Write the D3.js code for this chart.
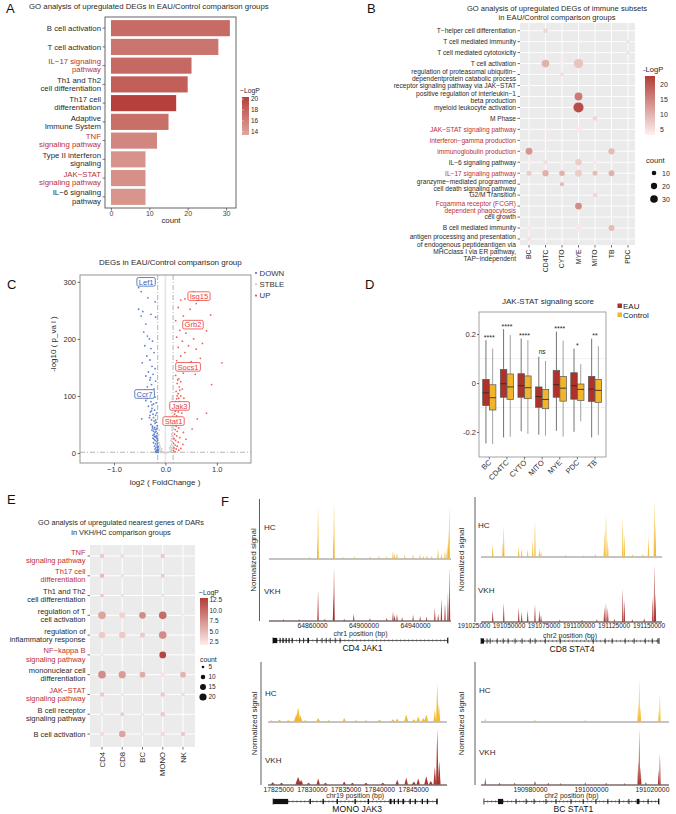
<!DOCTYPE html>
<meta charset="utf-8">
<script src="https://d3js.org/d3.v7.min.js"></script>
<style>
  body { margin: 0; background: #fff; }
  svg { display: block; }
</style>
<body>
<script>
// ---------------- data ----------------
// A: GO terms (EAU/Control DEGs)
var aTerms = ["B cell activation", "T cell activation", "IL\u221217 signaling\npathway", "Th1 and Th2\ncell differentiation",
  "Th17 cell\ndifferentiation", "Adaptive\nImmune System", "TNF\nsignaling pathway", "Type II interferon\nsignaling",
  "JAK\u2212STAT\nsignaling pathway", "IL\u22126 signaling\npathway"];
var aCount = [31, 28, 21, 20, 17, 15, 12, 9, 9, 9];
var aLogP = [17.4, 16.8, 17.6, 18.3, 20.4, 17.2, 15.6, 14.7, 14.9, 14.6];
var aHighlight = ["IL\u221217 signaling\npathway", "TNF\nsignaling pathway", "JAK\u2212STAT\nsignaling pathway"];

// B: GO terms per immune subset
var bCells = ["BC", "CD4TC", "CYTO", "MYE", "MITO", "TB", "PDC"];
var bTerms = ["T\u2212helper cell differentiation", "T cell mediated immunity", "T cell mediated cytotoxicity", "T cell activation",
  "regulation of proteasomal ubiquitin\u2212\ndependentprotein catabolic process", "receptor signaling pathway via JAK\u2212STAT",
  "positive regulation of interleukin\u22121\nbeta production", "myeloid leukocyte activation", "M Phase", "JAK\u2212STAT signaling pathway",
  "interferon\u2212gamma production", "immunoglobulin production", "IL\u22126 signaling pathway", "IL\u221217 signaling pathway",
  "granzyme\u2212mediated programmed\ncell death signaling pathway", "G2/M Transition", "Fcgamma receptor (FCGR)\ndependent phagocytosis",
  "cell growth", "B cell mediated immunity",
  "antigen processing and presentation\nof endogenous peptideantigen via\nMHCclass I via ER pathway,\nTAP\u2212independent"];
var bHighlight = [9, 10, 11, 13, 16];
// [term index, cell, count, -LogP]
var bDots = [
  [0, "CD4TC", 10, 6], [1, "MYE", 6, 2], [1, "PDC", 5, 5], [2, "PDC", 5, 5],
  [3, "CD4TC", 30, 10], [3, "CYTO", 8, 3], [3, "MYE", 46, 8], [4, "CYTO", 7, 5], [5, "BC", 4, 3],
  [6, "MYE", 32, 16], [7, "MYE", 55, 21], [8, "MITO", 10, 6],
  [9, "BC", 9, 3], [9, "CD4TC", 9, 3], [9, "MYE", 20, 4], [10, "CD4TC", 5, 2],
  [11, "BC", 24, 13], [11, "CD4TC", 10, 3], [11, "TB", 20, 9],
  [12, "BC", 8, 3], [12, "CD4TC", 10, 5], [12, "CYTO", 6, 3], [12, "MYE", 22, 7], [12, "MITO", 6, 4], [12, "TB", 9, 3],
  [13, "BC", 13, 7], [13, "CD4TC", 20, 10], [13, "CYTO", 15, 10], [13, "MYE", 24, 7], [13, "MITO", 12, 9], [13, "TB", 17, 10],
  [14, "CYTO", 8, 9], [15, "MITO", 9, 6], [16, "MYE", 24, 14], [17, "TB", 5, 2],
  [18, "BC", 11, 4], [18, "CD4TC", 9, 3], [18, "MYE", 28, 4], [18, "TB", 18, 9], [19, "BC", 7, 5]
];

// C: volcano points [log2FC, -log10 p]
var downPts = [[-0.52,290],[-0.49,297],[-0.47,283],[-0.34,272],[-0.2,265],[-0.52,252],[-0.44,248],[-0.47,240],[-0.28,243],[-0.19,238],
  [-0.38,226],[-0.42,212],[-0.35,205],[-0.31,200],[-0.25,196],[-0.4,188],[-0.28,183],[-0.22,176],[-0.36,170],[-0.3,163],
  [-0.45,158],[-0.26,152],[-0.2,148],[-0.33,142],[-0.38,135],[-0.24,138],[-0.3,128],[-0.19,126],[-0.27,120],[-0.35,116],
  [-0.22,112],[-0.31,106],[-0.25,101],[-0.2,98],[-0.38,92],[-0.28,90],[-0.23,86],[-0.33,82],[-0.26,78],[-0.21,75],
  [-0.29,72],[-0.24,68],[-0.19,66],[-0.46,60],[-0.31,62],[-0.27,58],[-0.22,56],[-0.18,54],[-0.28,50],[-0.25,47],
  [-0.21,45],[-0.17,43],[-0.26,40],[-0.23,38],[-0.2,36],[-0.16,34],[-0.24,31],[-0.21,29],[-0.18,27],[-0.22,24],
  [-0.2,22],[-0.17,20],[-0.23,18],[-0.19,16],[-0.16,14],[-0.21,12],[-0.18,10],[-0.15,9],[-0.2,7],[-0.17,5],
  [-0.15,4],[-0.19,3],[-0.16,2],[-0.14,1],[-0.18,1],[-0.22,33],[-0.19,41],[-0.2,52],[-0.23,62],[-0.17,30],
  [-0.15,17],[-0.14,11],[-0.16,25],[-0.24,26],[-0.25,44],[-0.3,66],[-0.26,84],[-0.35,96],[-0.4,110],[-0.29,132],
  [-0.18,88],[-0.17,70],[-0.16,48],[-0.15,22],[-0.14,6],[-0.2,29],[-0.22,42],[-0.19,58],[-0.27,74],[-0.18,38]];
var stblePts = [[-0.13,2],[-0.12,5],[-0.11,8],[-0.1,3],[-0.09,1],[-0.13,12],[-0.12,18],[-0.14,25],[-0.11,14],[-0.08,4],
  [-0.06,2],[-0.04,1],[-0.02,0.5],[0.02,0.6],[0.05,1],[0.07,2],[0.09,3],[0.1,6],[0.11,10],[0.12,15],
  [0.13,20],[0.12,25],[0.13,30],[0.14,35],[0.13,40],[0.12,45],[0.14,50],[0.13,55],[0.12,60],[0.14,65],
  [0.13,70],[0.12,75],[0.14,80],[0.13,85],[0.14,90],[0.13,95],[0.11,22],[0.12,33],[0.1,12],[0.13,8],
  [-0.13,32],[-0.12,40],[-0.1,10],[-0.14,6],[0.14,100],[0.12,5],[0.11,2],[-0.07,7],[0.08,9]];
var upPts = [[0.55,283],[0.38,270],[0.3,268],[0.6,262],[0.25,255],[0.48,252],[0.88,242],[0.35,240],[0.7,230],[0.2,232],
  [0.5,225],[0.62,222],[0.8,214],[0.28,215],[0.4,210],[0.22,203],[0.55,200],[0.33,196],[0.72,192],[0.45,188],
  [0.25,185],[0.6,182],[0.38,176],[0.3,170],[0.68,166],[1.1,158],[0.5,160],[0.22,162],[0.42,150],[0.28,145],
  [0.35,140],[0.58,138],[0.2,136],[0.26,130],[0.3,125],[0.23,122],[0.9,120],[0.27,116],[0.33,112],[0.21,108],
  [0.25,104],[0.3,100],[0.36,96],[0.22,95],[0.27,90],[0.45,88],[0.24,85],[0.19,82],[0.29,80],[0.21,76],
  [0.25,72],[0.32,70],[0.18,68],[0.22,65],[0.27,62],[0.2,58],[0.24,55],[0.3,52],[0.17,50],[0.21,47],
  [0.26,44],[0.19,41],[0.23,38],[0.35,36],[0.18,33],[0.22,30],[0.28,27],[0.17,25],[0.2,22],[0.25,19],
  [0.16,17],[0.19,14],[0.23,12],[0.17,9],[0.21,7],[0.26,5],[0.16,4],[0.19,2],[0.3,8],[0.34,15],
  [0.4,24],[0.52,42],[0.62,60],[0.8,70],[0.24,128],[0.28,110],[0.23,100],[0.26,96],[0.2,90],[0.31,86],[0.19,73]];
var volcGenes = ["Lef1", "Isg15", "Grb2", "Socs1", "Ccr7", "Jak3", "Stat1"];
var volcGeneDir = ["DOWN", "UP", "UP", "UP", "DOWN", "UP", "UP"];
var volcGeneX = [-0.375, 0.654, 0.537, 0.441, -0.404, 0.276, 0.159];
var volcGeneY = [300, 275, 225, 151, 103.5, 82.5, 56];

// D: JAK-STAT score boxplots [lower whisker, Q1, median, Q3, upper whisker]
var dCells = ["BC", "CD4TC", "CYTO", "MITO", "MYE", "PDC", "TB"];
var dEAU = [[-0.247,-0.092,-0.040,0.015,0.175], [-0.222,-0.058,-0.003,0.055,0.220], [-0.197,-0.058,-0.011,0.038,0.182],
  [-0.211,-0.099,-0.055,-0.016,0.107], [-0.195,-0.058,-0.007,0.051,0.210], [-0.199,-0.066,-0.011,0.042,0.141],
  [-0.222,-0.075,-0.025,0.027,0.181]];
var dCtrl = [[-0.249,-0.110,-0.060,-0.007,0.141], [-0.219,-0.067,-0.016,0.037,0.196], [-0.208,-0.064,-0.019,0.029,0.175],
  [-0.215,-0.105,-0.067,-0.026,0.090], [-0.219,-0.074,-0.021,0.027,0.173], [-0.156,-0.071,-0.026,-0.004,0.077],
  [-0.212,-0.079,-0.030,0.015,0.151]];
var dSig = ["****", "****", "****", "ns", "****", "*", "**"];

// E: GO terms of DAR nearest genes (VKH/HC)
var eCells = ["CD4", "CD8", "BC", "MONO", "NK"];
var eTerms = ["TNF\nsignaling pathway", "Th17 cell\ndifferentiation", "Th1 and Th2\ncell differentiation", "regulation of T\ncell activation",
  "regulation of\ninflammatory response", "NF\u2212kappa B\nsignaling pathway", "mononuclear cell\ndifferentiation",
  "JAK\u2212STAT\nsignaling pathway", "B cell receptor\nsignaling pathway", "B cell activation"];
var eHighlight = [0, 1, 5, 7];
var eDots = [
  [0, "CD4", 10, 4], [0, "CD8", 8, 3], [0, "MONO", 10, 4],
  [1, "CD4", 10, 5], [1, "CD8", 6, 3], [1, "MONO", 9, 4],
  [2, "CD4", 8, 4], [2, "CD8", 6, 3], [2, "MONO", 6, 3],
  [3, "CD4", 22, 6.5], [3, "CD8", 15, 3.5], [3, "BC", 18, 8], [3, "MONO", 22, 10], [3, "NK", 8, 2],
  [4, "CD4", 17, 4], [4, "CD8", 17, 4], [4, "BC", 12, 4], [4, "MONO", 22, 8],
  [5, "CD4", 5, 2.5], [5, "MONO", 18, 12.5],
  [6, "CD4", 22, 8], [6, "CD8", 20, 7], [6, "BC", 14, 6], [6, "MONO", 10, 2.5], [6, "NK", 14, 5.5],
  [7, "CD4", 10, 4], [7, "CD8", 6, 2.5], [7, "MONO", 10, 4], [7, "NK", 8, 3],
  [8, "CD4", 5, 3], [8, "CD8", 8, 4], [8, "BC", 4, 3], [8, "MONO", 10, 4],
  [9, "CD4", 10, 3], [9, "CD8", 17, 6.5], [9, "BC", 6, 2.5], [9, "MONO", 10, 3], [9, "NK", 10, 4]
];

// F: ATAC tracks, peaks [position bp, relative height, half width bp]
var jak1Domain = [64826600, 64967960], jak1Ticks = [64860000, 64900000, 64940000], jak1Span = [64829700, 64965600];
var jak1HC = [[64864700,0.93,120],[64864400,0.35,100],[64877100,1.0,120],[64876800,0.4,100],[64966600,0.92,150],[64966000,0.45,120],
  [64858000,0.03],[64884000,0.03],[64893000,0.04],[64905000,0.04],[64912000,0.05],[64918000,0.04],[64922900,0.14],[64924200,0.08],
  [64926000,0.1],[64932000,0.06],[64938500,0.07],[64943900,0.08],[64946500,0.05],[64949300,0.06],[64953000,0.05],[64957900,0.17],
  [64960500,0.08],[64963300,0.14],[64965000,0.26]];
var jak1VKH = [[64864700,0.53,120],[64877100,0.93,120],[64876700,0.45,100],[64966800,0.93,150],[64965600,0.5,120],[64963300,0.31],
  [64960500,0.4],[64958000,0.12],[64955400,0.22],[64949000,0.07],[64944000,0.08],[64938500,0.1],[64930000,0.06],[64926000,0.12],
  [64922900,0.16],[64924200,0.1],[64918000,0.05],[64905000,0.04],[64892400,0.12],[64885000,0.03],[64870000,0.03],[64850000,0.02],[64838000,0.02]];
var jak1Exons = [[64829700,64833000],[64834800,64835600],[64837000,64838000],[64839500,64840400],[64841800,64842600],[64844200,64845000],
  [64850000,64850600],[64853000,64853600],[64856400,64857600],[64863600,64864200],[64867500,64868100],[64870700,64871200],
  [64873800,64874300],[64877700,64878200],[64881500,64882000],[64965000,64965600]];

var stat4Domain = [191025000, 191159600], stat4Ticks = [191025000, 191050000, 191075000, 191100000, 191125000, 191150000], stat4Span = [191030400, 191157500];
var stat4HC = [[191038700,0.22],[191046600,0.55],[191046000,0.25],[191057300,0.18],[191059400,0.14],[191063700,0.12],[191068900,0.65],
  [191067300,0.3],[191072000,0.15],[191073200,0.1],[191090800,0.03],[191103500,0.02],[191112000,0.05],[191118400,0.45],[191119600,0.75],
  [191120900,0.3],[191131600,0.7],[191132700,0.4],[191138600,0.04],[191146000,0.05],[191149900,0.35],[191154100,1.0],[191154900,0.6]];
var stat4VKH = [[191038700,0.2],[191046600,0.33],[191057300,0.24],[191059400,0.17],[191063700,0.2],[191068900,0.3],[191072000,0.2],
  [191073200,0.12],[191086600,0.03],[191102500,0.03],[191113100,0.04],[191118400,0.26],[191119600,0.33],[191120900,0.24],[191125600,0.05],
  [191131600,0.58],[191132700,0.38],[191138400,0.04],[191146900,0.06],[191153000,0.43],[191154100,1.0],[191154900,0.5]];
var stat4Exons = [[191030400,191032500],[191034400,191034800],[191036600,191037000],[191041600,191042000],[191045900,191046300],
  [191049400,191049800],[191054400,191054800],[191059400,191059800],[191065200,191065600],[191068700,191069100],[191075900,191076300],
  [191086600,191087000],[191110200,191110600],[191118700,191119100],[191123700,191124100],[191133000,191133400],[191139400,191139800],
  [191147300,191147700],[191152300,191152700],[191156400,191157000]];

var jak3Domain = [17823500, 17850000], jak3Ticks = [17825000, 17830000, 17835000, 17840000, 17845000], jak3Span = [17824260, 17848560];
var jak3HC = [[17824000,0.02,300],[17825200,0.03,300],[17826500,0.02,300],[17827700,0.12,400],[17827960,0.24,350],[17828300,0.1,300],
  [17829000,0.02,300],[17830930,0.06,300],[17832500,0.02,300],[17834780,0.06,250],[17836500,0.02,300],[17838000,0.02,300],
  [17840000,0.03,300],[17842000,0.04,300],[17842630,0.05,250],[17843960,0.12,300],[17845100,0.04,300],[17845740,0.09,250],
  [17846500,0.06,300],[17846930,0.12,300],[17848200,0.2,200],[17848560,0.64,180],[17848800,0.3,200]];
var jak3VKH = [[17824200,0.04,300],[17825500,0.03,300],[17827960,0.13,400],[17828400,0.08,300],[17829500,0.03,300],[17830930,0.1,250],
  [17832000,0.03,300],[17834780,0.05,250],[17836000,0.03,300],[17838000,0.03,300],[17840500,0.03,300],[17842630,0.08,250],
  [17843960,0.12,250],[17845100,0.05,300],[17845740,0.1,250],[17846930,0.14,300],[17847600,0.06,300],[17848200,0.3,200],
  [17848560,0.95,180],[17848850,0.4,200]];
var jak3Exons = [[17824260,17826480],[17829650,17829850],[17831570,17831770],[17833650,17833850],[17836300,17836500],[17838250,17838450],
  [17841500,17841800],[17842100,17842300],[17842700,17842900],[17843400,17843650],[17844450,17844650],[17845200,17845400],
  [17846250,17846450],[17847000,17847200],[17848400,17848560]];

var stat1Domain = [190962300, 191025600], stat1Ticks = [190980000, 191000000, 191020000], stat1Span = [190964900, 191022300];
var stat1HC = [[190965340,0.06,200],[190981640,0.03,300],[190998130,0.03,200],[191015500,0.3,250],[191015840,0.72,200],
  [191016200,0.25,250],[191022300,0.2,200],[191022620,0.47,150]];
var stat1VKH = [[190965340,0.12,200],[190970000,0.03,300],[190975000,0.03,300],[190981640,0.06,300],[190986000,0.03,300],
  [190990000,0.02,300],[190998130,0.04,200],[191005000,0.03,300],[191011000,0.02,300],[191015500,0.4,250],[191015840,0.95,200],
  [191016300,0.3,250],[191018000,0.04,300],[191022200,0.25,200],[191022620,0.53,150]];
var stat1Exons = [[190969500,190971200],[190975300,190975600],[190978600,190978900],[190981200,190981500],[190985100,190985400],
  [190988400,190988700],[190993300,190993600],[190997300,190997600],[191001500,191001800],[191005400,191005700],[191009100,191009400],
  [191012300,191012600],[191015000,191015900],[191018600,191018900],[191022000,191022300]];

// ---------------- helpers ----------------
var FONT = '"Liberation Sans", Arial, Helvetica, sans-serif';
var RED = "#bb2f33", TXT = "#2a2a2a";
var svg = d3.select("body").append("svg").attr("width", 676).attr("height", 814).attr("font-family", FONT);
var defs = svg.append("defs");

function fixAxis(g, size, color) {
  g.attr("font-family", FONT).attr("font-size", size);
  g.select(".domain").remove();
  g.selectAll(".tick line").attr("stroke", color || "#444").attr("stroke-width", 0.7);
  g.selectAll(".tick text").attr("fill", color || "#444");
}
function mtext(g, x, y, label, size, lh, anchor, fill, shift) {
  var lines = label.split("\n");
  var t = g.append("text").attr("text-anchor", anchor).attr("font-size", size).attr("fill", fill);
  lines.forEach(function(s, i) {
    t.append("tspan").attr("x", x).attr("y", y + (shift || 0) + (i - (lines.length - 1) / 2) * lh + size * 0.35).text(s);
  });
  return t;
}
function vGradient(id, color, lo, hi) {
  var lg = defs.append("linearGradient").attr("id", id).attr("x1", 0).attr("y1", 1).attr("x2", 0).attr("y2", 0);
  d3.range(0, 1.01, 0.1).forEach(function(t) {
    lg.append("stop").attr("offset", t).attr("stop-color", color(lo + t * (hi - lo)));
  });
}
function panelLetter(s, x, y) {
  svg.append("text").attr("x", x).attr("y", y).attr("font-size", 13).attr("fill", "#111").text(s);
}

panelLetter("A", 6, 13); panelLetter("B", 367, 13); panelLetter("C", 7, 289);
panelLetter("D", 365, 289); panelLetter("E", 7, 504); panelLetter("F", 221, 506);

// ---------------- Panel A ----------------
(function() {
  var g = svg.append("g");
  g.append("text").attr("x", 29).attr("y", 9).attr("font-size", 7.8).attr("fill", TXT)
    .text("GO analysis of upregulated DEGs in EAU/Control comparison groups");
  var x = d3.scaleLinear().domain([-1.56, 32.6]).range([105, 236]);
  var y = d3.scaleBand().domain(aTerms).range([18.8, 206.2]).paddingInner(0.14).paddingOuter(0.07);
  var col = d3.scaleLinear().domain([13.4, 20.4]).range(["#dfa69e", "#b4413a"]).clamp(true);
  g.append("g").selectAll("rect").data(aTerms).join("rect")
    .attr("x", x(0)).attr("y", function(d) { return y(d); })
    .attr("width", function(d, i) { return x(aCount[i]) - x(0); })
    .attr("height", y.bandwidth())
    .attr("fill", function(d, i) { return col(aLogP[i]); });
  g.append("rect").attr("x", 105).attr("y", 17).attr("width", 131).attr("height", 191)
    .attr("fill", "none").attr("stroke", "#555").attr("stroke-width", 0.9);
  var ax = g.append("g").attr("transform", "translate(0,208)")
    .call(d3.axisBottom(x).tickValues([0, 10, 20, 30]).tickSize(2.5).tickPadding(0.8));
  fixAxis(ax, 7, "#444");
  g.append("text").attr("x", 171).attr("y", 222.5).attr("text-anchor", "middle").attr("font-size", 7.8).attr("fill", TXT).text("count");
  aTerms.forEach(function(t) {
    var cy = y(t) + y.bandwidth() / 2;
    g.append("line").attr("x1", 102.5).attr("x2", 105).attr("y1", cy).attr("y2", cy).attr("stroke", "#444").attr("stroke-width", 0.7);
    mtext(g, 101, cy, t, 7.8, 8.2, "end", aHighlight.indexOf(t) >= 0 ? RED : TXT);
  });
  // legend
  vGradient("gradA", col, 13.4, 20.4);
  g.append("text").attr("x", 240).attr("y", 93).attr("font-size", 6.8).attr("fill", TXT).text("\u2212LogP");
  g.append("rect").attr("x", 242).attr("y", 97).attr("width", 7).attr("height", 38).attr("fill", "url(#gradA)");
  var ly = d3.scaleLinear().domain([13.4, 20.4]).range([135, 97]);
  [14, 16, 18, 20].forEach(function(v) {
    g.append("line").attr("x1", 242).attr("x2", 243.5).attr("y1", ly(v)).attr("y2", ly(v)).attr("stroke", "#fff").attr("stroke-width", 0.6);
    g.append("text").attr("x", 251).attr("y", ly(v) + 2.3).attr("font-size", 6.5).attr("fill", TXT).text(v);
  });
})();

// ---------------- Panel B ----------------
(function() {
  var g = svg.append("g");
  g.append("text").attr("x", 557).attr("y", 10.5).attr("text-anchor", "middle").attr("font-size", 7.6).attr("fill", TXT)
    .text("GO analysis of upregulated DEGs of  immune subsets");
  g.append("text").attr("x", 557).attr("y", 20).attr("text-anchor", "middle").attr("font-size", 7.6).attr("fill", TXT)
    .text("in EAU/Control comparison groups");
  var x = d3.scalePoint().domain(bCells).range([529, 628]);
  var y = d3.scalePoint().domain(d3.range(bTerms.length)).range([30.7, 239]);
  var col = d3.scaleLinear().domain([3, 22.7]).range(["#fdf1f0", "#b23d36"]).clamp(true);
  var r = d3.scalePow().exponent(0.5).domain([10, 30]).range([2.3, 3.8]);
  g.append("rect").attr("x", 520).attr("y", 23).attr("width", 115).attr("height", 222).attr("fill", "#ebebeb");
  g.append("g").selectAll("line").data(bCells).join("line")
    .attr("x1", function(d) { return x(d); }).attr("x2", function(d) { return x(d); })
    .attr("y1", 23).attr("y2", 245).attr("stroke", "#fff").attr("stroke-width", 0.9);
  g.append("g").selectAll("line").data(d3.range(bTerms.length)).join("line")
    .attr("y1", function(d) { return y(d); }).attr("y2", function(d) { return y(d); })
    .attr("x1", 520).attr("x2", 635).attr("stroke", "#fff").attr("stroke-width", 0.9);
  g.append("g").selectAll("circle").data(bDots).join("circle")
    .attr("cx", function(d) { return x(d[1]); }).attr("cy", function(d) { return y(d[0]); })
    .attr("r", function(d) { return r(d[2]); }).attr("fill", function(d) { return col(d[3]); });
  bTerms.forEach(function(t, i) {
    var cy = y(i);
    g.append("line").attr("x1", 517.5).attr("x2", 520).attr("y1", cy).attr("y2", cy).attr("stroke", "#333").attr("stroke-width", 0.7);
    var n = t.split("\n").length;
    var shift = n > 2 ? (n - 1) / 2 * 7.2 - 2 : (n === 2 ? 0.8 : 0);
    mtext(g, 516, cy, t, 6.6, 7.2, "end", bHighlight.indexOf(i) >= 0 ? RED : TXT, shift);
  });
  bCells.forEach(function(c) {
    g.append("line").attr("x1", x(c)).attr("x2", x(c)).attr("y1", 245).attr("y2", 247.5).attr("stroke", "#333").attr("stroke-width", 0.7);
    g.append("text").attr("transform", "translate(" + (x(c) + 2.4) + ",249.5) rotate(-90)")
      .attr("text-anchor", "end").attr("font-size", 6.8).attr("fill", TXT).text(c);
  });
  // legend
  vGradient("gradB", col, 3, 22.7);
  g.append("text").attr("x", 643).attr("y", 71.5).attr("font-size", 7.6).attr("fill", TXT).text("-LogP");
  g.append("rect").attr("x", 645).attr("y", 76).attr("width", 10).attr("height", 59).attr("fill", "url(#gradB)");
  var ly = d3.scaleLinear().domain([3, 22.7]).range([135, 76]);
  [5, 10, 15, 20].forEach(function(v) {
    g.append("text").attr("x", 660).attr("y", ly(v) + 2.5).attr("font-size", 7).attr("fill", TXT).text(v);
  });
  g.append("text").attr("x", 646).attr("y", 162.5).attr("font-size", 7.6).attr("fill", TXT).text("count");
  var legY = d3.scalePoint().domain([10, 20, 30]).range([173, 199]);
  [10, 20, 30].forEach(function(v) {
    g.append("circle").attr("cx", 654).attr("cy", legY(v)).attr("r", r(v)).attr("fill", "#111");
    g.append("text").attr("x", 662).attr("y", legY(v) + 2.5).attr("font-size", 7).attr("fill", TXT).text(v);
  });
})();

// ---------------- Panel C ----------------
(function() {
  var g = svg.append("g");
  g.append("text").attr("x", 99).attr("y", 264.5).attr("font-size", 8).attr("fill", TXT).text("DEGs in EAU/Control comparison group");
  var x = d3.scaleLinear().domain([-1.66, 1.665]).range([80, 251]);
  var y = d3.scaleLinear().domain([-17.5, 312]).range([463, 275]);
  g.append("line").attr("x1", x(0)).attr("x2", x(0)).attr("y1", 275).attr("y2", 463).attr("stroke", "#e6e6e6").attr("stroke-width", 1.6);
  [-0.15, 0.15].forEach(function(v) {
    g.append("line").attr("x1", x(v)).attr("x2", x(v)).attr("y1", 275).attr("y2", 463)
      .attr("stroke", "#b5b5b5").attr("stroke-width", 1).attr("stroke-dasharray", "5,2,1,2");
  });
  g.append("line").attr("x1", 80).attr("x2", 251).attr("y1", y(1.3)).attr("y2", y(1.3))
    .attr("stroke", "#b5b5b5").attr("stroke-width", 1).attr("stroke-dasharray", "5,2,1,2");
  var sets = [[stblePts, "#c9c9c9"], [downPts, "#4a74c9"], [upPts, "#f0504a"]];
  sets.forEach(function(s) {
    g.append("g").selectAll("circle").data(s[0]).join("circle")
      .attr("cx", function(d) { return x(d[0]); }).attr("cy", function(d) { return y(d[1]); })
      .attr("r", 0.9).attr("fill", s[1]).attr("fill-opacity", 0.9);
  });
  g.append("rect").attr("x", 80).attr("y", 275).attr("width", 171).attr("height", 188)
    .attr("fill", "none").attr("stroke", "#888").attr("stroke-width", 0.9);
  var ax = g.append("g").attr("transform", "translate(0,463)").call(d3.axisBottom(x).tickValues([-1, 0, 1]).tickSize(2.5).tickPadding(1.5));
  fixAxis(ax, 7.5, "#333");
  var ay = g.append("g").attr("transform", "translate(80,0)").call(d3.axisLeft(y).tickValues([0, 100, 200, 300]).tickSize(2.5).tickPadding(1.5));
  fixAxis(ay, 7.5, "#333");
  g.append("text").attr("x", 165).attr("y", 484.5).attr("text-anchor", "middle").attr("font-size", 8).attr("fill", TXT).text("log2 ( FoldChange )");
  g.append("text").attr("transform", "translate(56,344) rotate(-90)").attr("text-anchor", "middle")
    .attr("font-size", 8).attr("fill", TXT).text("-log10 ( p_va l )");
  volcGenes.forEach(function(n, i) {
    var c = volcGeneDir[i] === "UP" ? "#e8423b" : "#3f62b0";
    var lg = g.append("g");
    var t = lg.append("text").attr("x", x(volcGeneX[i])).attr("y", y(volcGeneY[i]) + 2.7)
      .attr("text-anchor", "middle").attr("font-size", 7.6).attr("fill", c).text(n);
    var bb = t.node().getBBox();
    lg.insert("rect", "text").attr("x", bb.x - 1.8).attr("y", y(volcGeneY[i]) - 4.3).attr("width", bb.width + 3.6).attr("height", 8.6)
      .attr("rx", 1.5).attr("fill", "#fff").attr("stroke", c).attr("stroke-width", 0.8);
  });
  // legend
  [["DOWN", "#4a74c9"], ["STBLE", "#c9c9c9"], ["UP", "#f0504a"]].forEach(function(d, i) {
    var ly = 273 + i * 11.3;
    g.append("circle").attr("cx", 256).attr("cy", ly).attr("r", 1.1).attr("fill", d[1]);
    g.append("text").attr("x", 259.5).attr("y", ly + 2.8).attr("font-size", 7.8).attr("fill", "#333").text(d[0]);
  });
})();

// ---------------- Panel D ----------------
(function() {
  var g = svg.append("g");
  var x = d3.scalePoint().domain(dCells).range([489.3, 595]);
  var y = d3.scaleLinear().domain([-0.302, 0.29]).range([457, 312]);
  g.append("text").attr("x", 548).attr("y", 304).attr("text-anchor", "middle").attr("font-size", 8).attr("fill", TXT).text("JAK-STAT signaling score");
  [-0.1, 0.1].forEach(function(v) {
    g.append("line").attr("x1", 479).attr("x2", 606).attr("y1", y(v)).attr("y2", y(v)).attr("stroke", "#eeeeee").attr("stroke-width", 0.8);
  });
  var groups = [[dEAU, "#b0302a", -3.35, "#3a3a3a"], [dCtrl, "#f1b52b", 3.35, "#7a7a7a"]];
  groups.forEach(function(gr) {
    dCells.forEach(function(c, i) {
      var s = gr[0][i], cx = x(c) + gr[2], w = 6.5;
      g.append("line").attr("x1", cx).attr("x2", cx).attr("y1", y(s[4])).attr("y2", y(s[3])).attr("stroke", gr[3]).attr("stroke-width", 0.7);
      g.append("line").attr("x1", cx).attr("x2", cx).attr("y1", y(s[1])).attr("y2", y(s[0])).attr("stroke", gr[3]).attr("stroke-width", 0.7);
      g.append("rect").attr("x", cx - w / 2).attr("y", y(s[3])).attr("width", w).attr("height", y(s[1]) - y(s[3]))
        .attr("fill", gr[1]).attr("stroke", "#555").attr("stroke-width", 0.7);
      g.append("line").attr("x1", cx - w / 2).attr("x2", cx + w / 2).attr("y1", y(s[2])).attr("y2", y(s[2]))
        .attr("stroke", "#3a2a20").attr("stroke-width", 0.9);
    });
  });
  dCells.forEach(function(c, i) {
    var top = Math.max(dEAU[i][4], dCtrl[i][4]);
    g.append("text").attr("x", x(c)).attr("y", y(top) - (dSig[i] === "ns" ? 2.5 : 0.5))
      .attr("text-anchor", "middle").attr("font-size", dSig[i] === "ns" ? 6.5 : 7).attr("fill", "#222").text(dSig[i]);
  });
  g.append("rect").attr("x", 479).attr("y", 312).attr("width", 127).attr("height", 145)
    .attr("fill", "none").attr("stroke", "#999").attr("stroke-width", 0.9);
  var ay = g.append("g").attr("transform", "translate(479,0)")
    .call(d3.axisLeft(y).tickValues([-0.2, 0, 0.2]).tickSize(2).tickPadding(1).tickFormat(function(d) { return d === 0 ? "0" : d; }));
  fixAxis(ay, 7.5, "#333");
  dCells.forEach(function(c) {
    g.append("line").attr("x1", x(c)).attr("x2", x(c)).attr("y1", 457).attr("y2", 459.5).attr("stroke", "#444").attr("stroke-width", 0.7);
    g.append("text").attr("transform", "translate(" + (x(c) + 2.5) + ",463) rotate(-45)")
      .attr("text-anchor", "end").attr("font-size", 7.5).attr("fill", "#333").text(c);
  });
  [["EAU", "#b0302a"], ["Control", "#f1b52b"]].forEach(function(d, i) {
    g.append("rect").attr("x", 617.5).attr("y", 303.5 + i * 9).attr("width", 4.5).attr("height", 4.5).attr("fill", d[1]);
    g.append("text").attr("x", 623).attr("y", 308.5 + i * 9).attr("font-size", 8).attr("fill", "#222").text(d[0]);
  });
})();

// ---------------- Panel E ----------------
(function() {
  var g = svg.append("g");
  g.append("text").attr("x", 121).attr("y", 524.5).attr("text-anchor", "middle").attr("font-size", 7.3).attr("fill", TXT)
    .text("GO analysis of upregulated nearest genes of DARs");
  g.append("text").attr("x", 121).attr("y", 534.5).attr("text-anchor", "middle").attr("font-size", 7.3).attr("fill", TXT)
    .text("in VKH/HC comparison groups");
  var x = d3.scalePoint().domain(eCells).range([102, 183]);
  var y = d3.scalePoint().domain(d3.range(eTerms.length)).range([556, 734]);
  var col = d3.scaleLinear().domain([1.8, 13]).range(["#fcedeb", "#b23d36"]).clamp(true);
  var r = d3.scalePow().exponent(0.5).domain([5, 20]).range([1.3, 3.6]);
  g.append("rect").attr("x", 90).attr("y", 545).attr("width", 105).attr("height", 202).attr("fill", "#ebebeb");
  g.append("g").selectAll("line").data(eCells).join("line")
    .attr("x1", function(d) { return x(d); }).attr("x2", function(d) { return x(d); })
    .attr("y1", 545).attr("y2", 747).attr("stroke", "#fff").attr("stroke-width", 1);
  g.append("g").selectAll("line").data(d3.range(eTerms.length)).join("line")
    .attr("y1", function(d) { return y(d); }).attr("y2", function(d) { return y(d); })
    .attr("x1", 90).attr("x2", 195).attr("stroke", "#fff").attr("stroke-width", 1);
  g.append("g").selectAll("circle").data(eDots).join("circle")
    .attr("cx", function(d) { return x(d[1]); }).attr("cy", function(d) { return y(d[0]); })
    .attr("r", function(d) { return r(d[2]); }).attr("fill", function(d) { return col(d[3]); });
  eTerms.forEach(function(t, i) {
    g.append("line").attr("x1", 87.5).attr("x2", 90).attr("y1", y(i)).attr("y2", y(i)).attr("stroke", "#333").attr("stroke-width", 0.7);
    mtext(g, 85.5, y(i), t, 7.5, 8.1, "end", eHighlight.indexOf(i) >= 0 ? RED : TXT);
  });
  eCells.forEach(function(c) {
    g.append("line").attr("x1", x(c)).attr("x2", x(c)).attr("y1", 747).attr("y2", 749.5).attr("stroke", "#333").attr("stroke-width", 0.7);
    g.append("text").attr("transform", "translate(" + (x(c) + 2.7) + ",752) rotate(-90)")
      .attr("text-anchor", "end").attr("font-size", 7.7).attr("fill", TXT).text(c);
  });
  vGradient("gradE", col, 1.8, 13);
  g.append("text").attr("x", 199).attr("y", 594.5).attr("font-size", 6.8).attr("fill", TXT).text("\u2212LogP");
  g.append("rect").attr("x", 200).attr("y", 598).attr("width", 8).attr("height", 47).attr("fill", "url(#gradE)");
  var ly = d3.scaleLinear().domain([1.8, 13]).range([645, 598]);
  [2.5, 5, 7.5, 10, 12.5].forEach(function(v) {
    g.append("text").attr("x", 209.5).attr("y", ly(v) + 2.3).attr("font-size", 6.5).attr("fill", TXT).text(v.toFixed(1));
  });
  g.append("text").attr("x", 200).attr("y", 661.5).attr("font-size", 6.8).attr("fill", TXT).text("count");
  var legY = d3.scalePoint().domain([5, 10, 15, 20]).range([667, 697]);
  [5, 10, 15, 20].forEach(function(v) {
    g.append("circle").attr("cx", 203).attr("cy", legY(v)).attr("r", r(v)).attr("fill", "#111");
    g.append("text").attr("x", 208.5).attr("y", legY(v) + 2.3).attr("font-size", 6.5).attr("fill", TXT).text(v);
  });
})();

// ---------------- Panel F ----------------
var fPanels = [
  { domain: jak1Domain, ticks: jak1Ticks, hc: jak1HC, vkh: jak1VKH, exons: jak1Exons, span: jak1Span, chr: "chr1", name: "CD4  JAK1",
    x0: 269, x1: 451, axisX: 259.5, top: 499, hcBase: 559, vkhBase: 621, h: 57, labX: 264, hcLabY: 530, vkhLabY: 594, ylabX: 256,
    tickFont: 6.8, chrY: 635.5, geneY: 640.5, nameY: 651 },
  { domain: stat4Domain, ticks: stat4Ticks, hc: stat4HC, vkh: stat4VKH, exons: stat4Exons, span: stat4Span, chr: "chr2", name: "CD8 STAT4",
    x0: 473.5, x1: 662, axisX: 475, top: 497, hcBase: 557, vkhBase: 622, h: 57, labX: 478, hcLabY: 528, vkhLabY: 593, ylabX: 464,
    tickFont: 6.5, chrY: 638, geneY: 641, nameY: 651.5 },
  { domain: jak3Domain, ticks: jak3Ticks, hc: jak3HC, vkh: jak3VKH, exons: jak3Exons, span: jak3Span, chr: "chr19", name: "MONO JAK3",
    x0: 268, x1: 447, axisX: 261, top: 662, hcBase: 722, vkhBase: 785, h: 59, labX: 265, hcLabY: 696, vkhLabY: 763, ylabX: 256.5,
    tickFont: 6.8, chrY: 798, geneY: 801.5, nameY: 811.5 },
  { domain: stat1Domain, ticks: stat1Ticks, hc: stat1HC, vkh: stat1VKH, exons: stat1Exons, span: stat1Span, chr: "chr2", name: "BC STAT1",
    x0: 476, x1: 669, axisX: 475, top: 662, hcBase: 722, vkhBase: 785, h: 59, labX: 479, hcLabY: 693, vkhLabY: 755, ylabX: 464,
    tickFont: 6.8, chrY: 798, geneY: 801.5, nameY: 811.5 }
];

fPanels.forEach(function(p) {
  var g = svg.append("g");
  var x = d3.scaleLinear().domain(p.domain).range([p.x0, p.x1]);
  var lineStart = Math.max(p.x0, p.axisX + 6);
  function drawPeaks(peaks, base, color) {
    var yy = d3.scaleLinear().domain([0, 1]).range([base, base - p.h]);
    g.append("g").selectAll("path").data(peaks).join("path")
      .attr("d", function(d) {
        var cx = x(d[0]);
        var hw = Math.max(0.7, x(d[0] + (d[2] || 100)) - cx);
        return "M" + (cx - hw) + "," + base + "L" + cx + "," + yy(d[1]) + "L" + (cx + hw) + "," + base + "Z";
      })
      .attr("fill", color).attr("fill-opacity", 0.92);
  }
  g.append("line").attr("x1", lineStart).attr("x2", p.x1).attr("y1", p.hcBase).attr("y2", p.hcBase).attr("stroke", "#c4c4c4").attr("stroke-width", 1.8);
  drawPeaks(p.hc, p.hcBase - 0.5, "#f3b623");
  drawPeaks(p.vkh, p.vkhBase - 0.5, "#a3251f");
  g.append("line").attr("x1", lineStart).attr("x2", p.x1).attr("y1", p.vkhBase).attr("y2", p.vkhBase).attr("stroke", "#3b2220").attr("stroke-width", 1);
  g.append("line").attr("x1", p.axisX).attr("x2", p.axisX).attr("y1", p.top).attr("y2", p.vkhBase).attr("stroke", "#333").attr("stroke-width", 0.8);
  g.append("text").attr("transform", "translate(" + p.ylabX + "," + ((p.top + p.vkhBase) / 2) + ") rotate(-90)")
    .attr("text-anchor", "middle").attr("font-size", 8).attr("fill", TXT).text("Normalized signal");
  g.append("text").attr("x", p.labX).attr("y", p.hcLabY).attr("font-size", 8).attr("fill", TXT).text("HC");
  g.append("text").attr("x", p.labX).attr("y", p.vkhLabY).attr("font-size", 8).attr("fill", TXT).text("VKH");
  var ax = g.append("g").attr("transform", "translate(0," + p.vkhBase + ")")
    .call(d3.axisBottom(x).tickValues(p.ticks).tickSize(0).tickPadding(1.8).tickFormat(d3.format("d")));
  fixAxis(ax, p.tickFont, "#222");
  var mid = (x(p.span[0]) + x(p.span[1])) / 2;
  g.append("text").attr("x", mid).attr("y", p.chrY).attr("text-anchor", "middle").attr("font-size", 7).attr("fill", TXT)
    .text(p.chr + " position (bp)");
  // gene model
  var gy = p.geneY;
  g.append("line").attr("x1", x(p.span[0])).attr("x2", x(p.span[1])).attr("y1", gy).attr("y2", gy).attr("stroke", "#222").attr("stroke-width", 0.7);
  var chev = d3.range(x(p.span[0]) + 3, x(p.span[1]) - 2, 4);
  g.append("g").selectAll("path").data(chev).join("path")
    .attr("d", function(cx) { return "M" + (cx + 1) + "," + (gy - 1.3) + "L" + cx + "," + gy + "L" + (cx + 1) + "," + (gy + 1.3); })
    .attr("fill", "none").attr("stroke", "#333").attr("stroke-width", 0.45);
  g.append("g").selectAll("rect").data(p.exons).join("rect")
    .attr("x", function(d) { return x(d[0]); }).attr("y", gy - 2.6)
    .attr("width", function(d) { return Math.max(0.8, x(d[1]) - x(d[0])); }).attr("height", 5.2).attr("fill", "#111");
  g.append("line").attr("x1", x(p.span[0])).attr("x2", x(p.span[0])).attr("y1", gy - 3).attr("y2", gy + 3).attr("stroke", "#111").attr("stroke-width", 0.8);
  g.append("line").attr("x1", x(p.span[1])).attr("x2", x(p.span[1])).attr("y1", gy - 3).attr("y2", gy + 3).attr("stroke", "#111").attr("stroke-width", 0.8);
  g.append("text").attr("x", mid + 2).attr("y", p.nameY).attr("text-anchor", "middle").attr("font-size", 8.6).attr("fill", "#111").text(p.name);
});
</script>
</body>
